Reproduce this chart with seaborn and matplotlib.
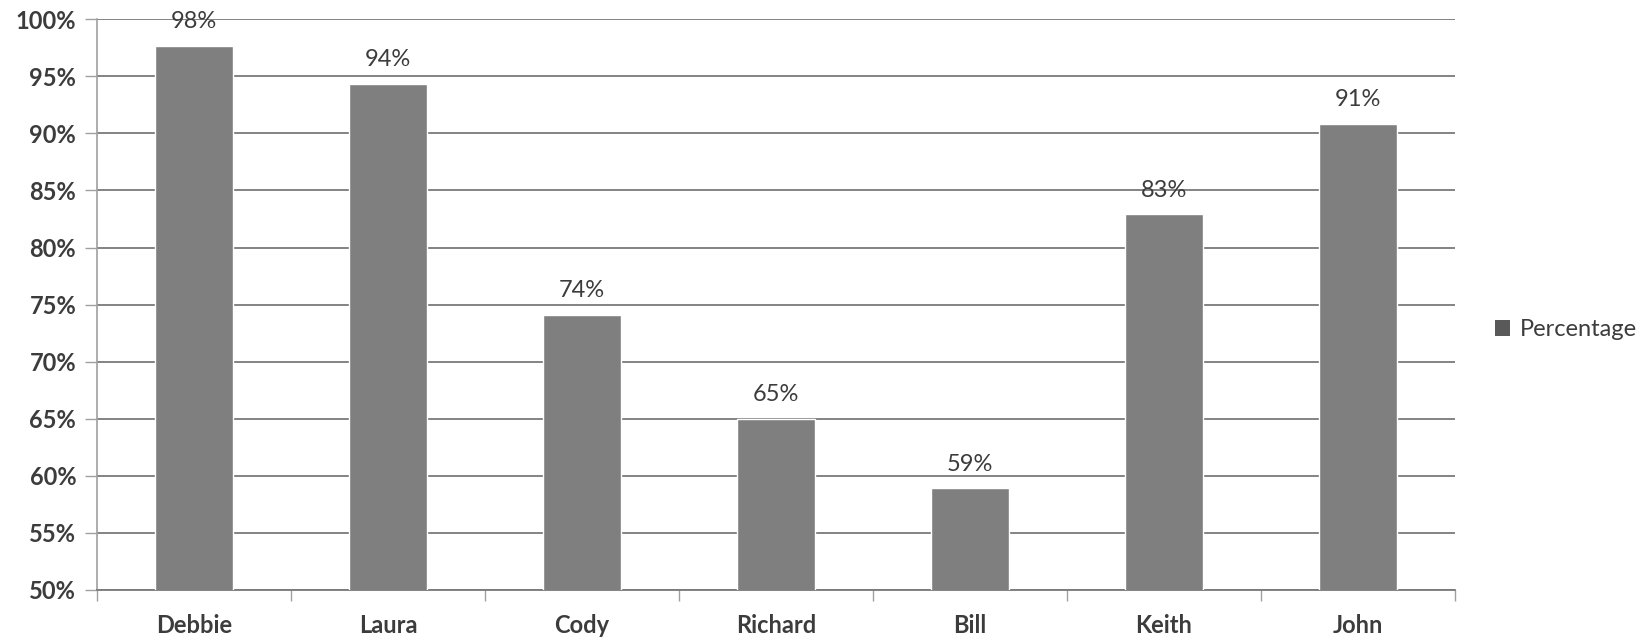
import matplotlib
matplotlib.use("Agg")
import matplotlib.pyplot as plt
import matplotlib.patches as mpatches
import seaborn as sns
import pandas as pd

# Scores per person (fractions of 1)
names = ["Debbie", "Laura", "Cody", "Richard", "Bill", "Keith", "John"]
percentage = [0.977, 0.943, 0.741, 0.650, 0.589, 0.829, 0.908]
y_ticks = [0.50, 0.55, 0.60, 0.65, 0.70, 0.75, 0.80, 0.85, 0.90, 0.95, 1.00]
series_name = "Percentage"

df = pd.DataFrame({"Name": names, "Value": percentage})

sns.set_theme(style="white")
plt.rcParams["font.family"] = ["Lato", "DejaVu Sans"]

text_color = "#3c3c3c"
bar_color = "#7f7f7f"
grid_color = "#7a7a7a"
axis_color = "#a0a0a0"

fig = plt.figure(figsize=(16.49, 6.42), dpi=100)
ax = fig.add_axes([0.0588, 0.081, 0.8235, 0.889])

sns.barplot(data=df, x="Name", y="Value", color=bar_color, width=0.40,
            saturation=1, ax=ax, zorder=3)

ax.set_ylim(0.5, 1.0)
ax.set_xlim(-0.5, len(names) - 0.5)
ax.set_yticks(y_ticks)
ax.set_yticklabels([f"{t:.0%}" for t in y_ticks])
ax.set_xlabel("")
ax.set_ylabel("")

# horizontal gridlines
ax.yaxis.grid(True, color=grid_color, linewidth=1.3, zorder=0)
ax.xaxis.grid(False)
ax.set_axisbelow(True)

for side in ["top", "right"]:
    ax.spines[side].set_visible(False)
ax.spines["left"].set_color(axis_color)
ax.spines["left"].set_linewidth(1.2)
ax.spines["bottom"].set_color(grid_color)
ax.spines["bottom"].set_linewidth(1.3)

# y ticks stick out to the left
ax.tick_params(axis="y", which="major", left=True, length=9, width=1.0,
               color=axis_color, labelsize=17, labelcolor=text_color, pad=6)
for lbl in ax.get_yticklabels():
    lbl.set_fontweight("bold")

# x ticks between categories
ax.set_xticks(range(len(names)))
ax.set_xticklabels(names)
ax.tick_params(axis="x", which="major", bottom=False, length=0, labelsize=17,
               labelcolor=text_color, pad=17)
for lbl in ax.get_xticklabels():
    lbl.set_fontweight("bold")
ax.set_xticks([i - 0.5 for i in range(len(names) + 1)], minor=True)
ax.tick_params(axis="x", which="minor", bottom=True, length=8, width=1.0,
               color=axis_color, direction="out")

# value labels above bars
for i, v in enumerate(percentage):
    ax.annotate(f"{v:.0%}", xy=(i, v), xytext=(0, 10), textcoords="offset points",
                ha="center", va="bottom", fontsize=17, color=text_color,
                annotation_clip=False, zorder=4)

# legend on the right
handle = mpatches.Patch(facecolor="#595959", edgecolor="none", label=series_name)
fig.legend(handles=[handle], loc="center left", bbox_to_anchor=(0.8935, 0.486),
           frameon=False, fontsize=17, labelcolor=text_color,
           handlelength=0.65, handleheight=0.65, handletextpad=0.4)

fig.savefig("out.png", dpi=100, facecolor="white")
